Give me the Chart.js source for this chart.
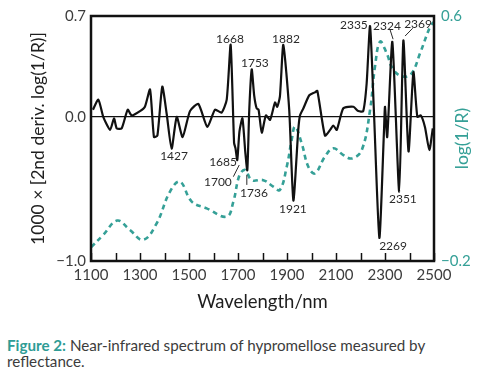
<!DOCTYPE html>
<html>
<head>
<meta charset="utf-8">
<script src="https://cdn.jsdelivr.net/npm/chart.js@4.4.1/dist/chart.umd.min.js"></script>
<style>
  body { margin: 0; background: #fff; width: 483px; height: 372px; overflow: hidden; position: relative; font-family: Lato, sans-serif; }
  #wrap { position: absolute; left: 0; top: 0; width: 483px; height: 318px; }
  #caption { position: absolute; left: 7px; top: 337px; width: 474px; font-size: 15.2px; line-height: 16px; color: #3c3c3c; }
  #caption b { color: #2f9c95; font-weight: 700; }
</style>
</head>
<body>
<div id="wrap"><canvas id="nir"></canvas></div>
<div id="caption"><b>Figure 2:</b> Near-infrared spectrum of hypromellose measured by<br>reflectance.</div>
<script>
// 2nd derivative spectrum (left axis)
const derivWavelengths = [1108, 1130, 1150, 1178, 1194, 1205, 1225, 1250, 1266, 1300, 1320, 1341, 1357, 1371, 1391, 1409, 1429, 1450, 1474, 1504, 1538, 1575, 1606, 1633, 1654, 1670, 1684, 1690, 1697, 1706, 1718, 1730, 1738, 1746, 1756, 1766, 1776, 1784, 1797, 1814, 1831, 1851, 1860, 1871, 1885, 1909, 1926, 1946, 1953, 1967, 1991, 2014, 2024, 2055, 2076, 2089, 2103, 2130, 2171, 2191, 2211, 2225, 2239, 2255, 2277, 2296, 2300, 2309, 2330, 2358, 2375, 2396, 2416, 2432, 2446, 2463, 2481, 2495];
const derivValues = [0.05, 0.12, 0.0, -0.09, -0.01, -0.08, -0.08, 0.05, 0.01, 0.04, 0.07, 0.19, -0.14, -0.13, 0.21, 0.02, -0.22, 0.0, -0.14, 0.04, 0.09, -0.07, 0.05, 0.03, 0.12, 0.50, -0.18, -0.22, -0.30, -0.10, -0.01, -0.25, -0.37, 0.05, 0.33, 0.15, 0.06, 0.05, -0.11, 0.01, -0.02, 0.10, 0.07, 0.14, 0.50, 0.05, -0.58, -0.09, 0.01, 0.06, 0.15, 0.17, 0.18, -0.13, -0.09, -0.06, -0.09, 0.06, 0.07, 0.04, 0.04, 0.23, 0.63, 0.03, -0.84, -0.09, 0.07, -0.14, 0.52, -0.52, 0.53, -0.24, 0.31, 0.0, 0.01, -0.07, -0.23, -0.08];

// log(1/R) spectrum (right axis)
const absWavelengths = [1100, 1150, 1207, 1259, 1313, 1368, 1422, 1463, 1511, 1572, 1654, 1681, 1706, 1729, 1756, 1803, 1844, 1871, 1899, 1919, 1933, 1960, 1987, 2014, 2055, 2089, 2130, 2164, 2205, 2239, 2259, 2280, 2307, 2334, 2375, 2409, 2443, 2484, 2498];
const absValues = [-0.155, -0.115, -0.068, -0.099, -0.131, -0.077, 0.026, 0.059, -0.006, -0.028, -0.055, -0.006, 0.08, 0.097, 0.064, 0.064, 0.043, 0.032, 0.108, 0.195, 0.239, 0.184, 0.108, 0.086, 0.141, 0.168, 0.146, 0.135, 0.162, 0.293, 0.434, 0.516, 0.478, 0.424, 0.402, 0.413, 0.478, 0.565, 0.58];

// tick values
const xTicks = [1100, 1200, 1300, 1400, 1500, 1600, 1700, 1800, 1900, 2000, 2100, 2200, 2300, 2400, 2500];
const leftTicks = [-1.0, 0.0, 0.7];
const rightTicks = [-0.2, 0.6];

// band labels, anchored in data units (wavelength, left-axis value)
const bandLabels = [
  { text: '1668', x: 1667, y: 0.54 },
  { text: '1753', x: 1769, y: 0.374 },
  { text: '1882', x: 1896, y: 0.54 },
  { text: '2335', x: 2173, y: 0.638 },
  { text: '2324', x: 2308, y: 0.631 },
  { text: '2369', x: 2435, y: 0.645 },
  { text: '1427', x: 1439, y: -0.271 },
  { text: '1685', x: 1639, y: -0.313 },
  { text: '1700', x: 1618, y: -0.451 },
  { text: '1736', x: 1765, y: -0.528 },
  { text: '1921', x: 1924, y: -0.64 },
  { text: '2351', x: 2373, y: -0.569 },
  { text: '2269', x: 2333, y: -0.895 }
];
const leaders = [
  [2321, 0.603, 2333, 0.539],
  [2413, 0.615, 2382, 0.561],
  [1681, -0.415, 1705, -0.334],
  [1736, -0.403, 1736, -0.472]
];

const teal = '#35a097';
const textGrey = '#3c3c3c';
const fontFam = 'Lato, sans-serif';

const frame = {
  id: 'frame',
  afterDraw(chart) {
    const { ctx, chartArea: a, scales } = chart;
    const x = scales.x, y = scales.y;
    ctx.save();
    // inside ticks on the wavelength axis
    ctx.strokeStyle = '#111';
    ctx.lineWidth = 1.5;
    xTicks.forEach(t => {
      const px = Math.round(x.getPixelForValue(t)) + 0.5;
      ctx.beginPath();
      ctx.moveTo(px, a.bottom);
      ctx.lineTo(px, a.bottom - 8);
      ctx.stroke();
    });
    // box
    ctx.lineWidth = 2.5;
    ctx.strokeRect(a.left, a.top, a.right - a.left, a.bottom - a.top);
    // band labels
    ctx.fillStyle = '#2a2a2a';
    ctx.font = '12px ' + fontFam;
    ctx.textAlign = 'center';
    ctx.textBaseline = 'middle';
    bandLabels.forEach(l => {
      ctx.fillText(l.text, x.getPixelForValue(l.x), y.getPixelForValue(l.y));
    });
    ctx.lineWidth = 1;
    ctx.strokeStyle = '#2a2a2a';
    leaders.forEach(s => {
      ctx.beginPath();
      ctx.moveTo(x.getPixelForValue(s[0]), y.getPixelForValue(s[1]));
      ctx.lineTo(x.getPixelForValue(s[2]), y.getPixelForValue(s[3]));
      ctx.stroke();
    });
    // right axis title, reading upward
    ctx.fillStyle = teal;
    ctx.font = '17.5px ' + fontFam;
    ctx.translate(462, (a.top + a.bottom) / 2);
    ctx.rotate(-Math.PI / 2);
    ctx.fillText('log(1/R)', 0, 0);
    ctx.restore();
  }
};

const chart = new Chart(document.getElementById('nir'), {
  type: 'line',
  data: {
    datasets: [
      {
        label: '2nd derivative',
        data: derivWavelengths.map((w, i) => ({ x: w, y: derivValues[i] })),
        yAxisID: 'y',
        borderColor: '#111',
        borderWidth: 2.2,
        pointRadius: 0,
        tension: 0.2,
        fill: false
      },
      {
        label: 'log(1/R)',
        data: absWavelengths.map((w, i) => ({ x: w, y: absValues[i] })),
        yAxisID: 'y2',
        borderColor: teal,
        borderWidth: 2.6,
        borderDash: [5, 4],
        pointRadius: 0,
        tension: 0.4,
        fill: false
      }
    ]
  },
  options: {
    responsive: true,
    maintainAspectRatio: false,
    animation: false,
    layout: { padding: 0 },
    plugins: { legend: { display: false }, tooltip: { enabled: false } },
    scales: {
      x: {
        type: 'linear',
        min: 1100,
        max: 2500,
        afterBuildTicks: s => { s.ticks = xTicks.map(v => ({ value: v })); },
        afterFit: s => { s.height = 57; },
        grid: { display: false, drawTicks: false },
        border: { display: false },
        ticks: {
          autoSkip: false,
          maxRotation: 0,
          padding: 5,
          color: textGrey,
          font: { family: fontFam, size: 15 },
          callback: v => ((v - 1100) % 200 === 0 ? String(v) : '')
        },
        title: {
          display: true,
          text: 'Wavelength/nm',
          color: '#1e1e1e',
          font: { family: fontFam, size: 18.5 },
          padding: { top: 0, bottom: 5 }
        }
      },
      y: {
        position: 'left',
        min: -1,
        max: 0.7,
        afterBuildTicks: s => { s.ticks = leftTicks.map(v => ({ value: v })); },
        afterFit: s => { s.width = 91; },
        grid: {
          drawTicks: false,
          lineWidth: 1.3,
          color: c => (c.tick && c.tick.value === 0 ? '#111' : 'rgba(0,0,0,0)')
        },
        border: { display: false },
        ticks: {
          padding: 5,
          color: textGrey,
          font: { family: fontFam, size: 15 },
          callback: v => (v < 0 ? '\u2212' + Math.abs(v).toFixed(1) : v.toFixed(1))
        },
        title: {
          display: true,
          text: '1000 \u00d7 [2nd deriv. log(1/R)]',
          color: '#1e1e1e',
          font: { family: fontFam, size: 17.5 },
          padding: { top: 28, bottom: 0 }
        }
      },
      y2: {
        position: 'right',
        min: -0.2,
        max: 0.6,
        afterBuildTicks: s => { s.ticks = rightTicks.map(v => ({ value: v })); },
        afterFit: s => { s.width = 49; },
        grid: { display: false, drawTicks: false },
        border: { display: false },
        ticks: {
          padding: 7,
          color: teal,
          font: { family: fontFam, size: 15 },
          callback: v => (v < 0 ? '\u2212' + Math.abs(v).toFixed(1) : v.toFixed(1))
        }
      }
    }
  },
  plugins: [frame]
});
</script>
</body>
</html>
